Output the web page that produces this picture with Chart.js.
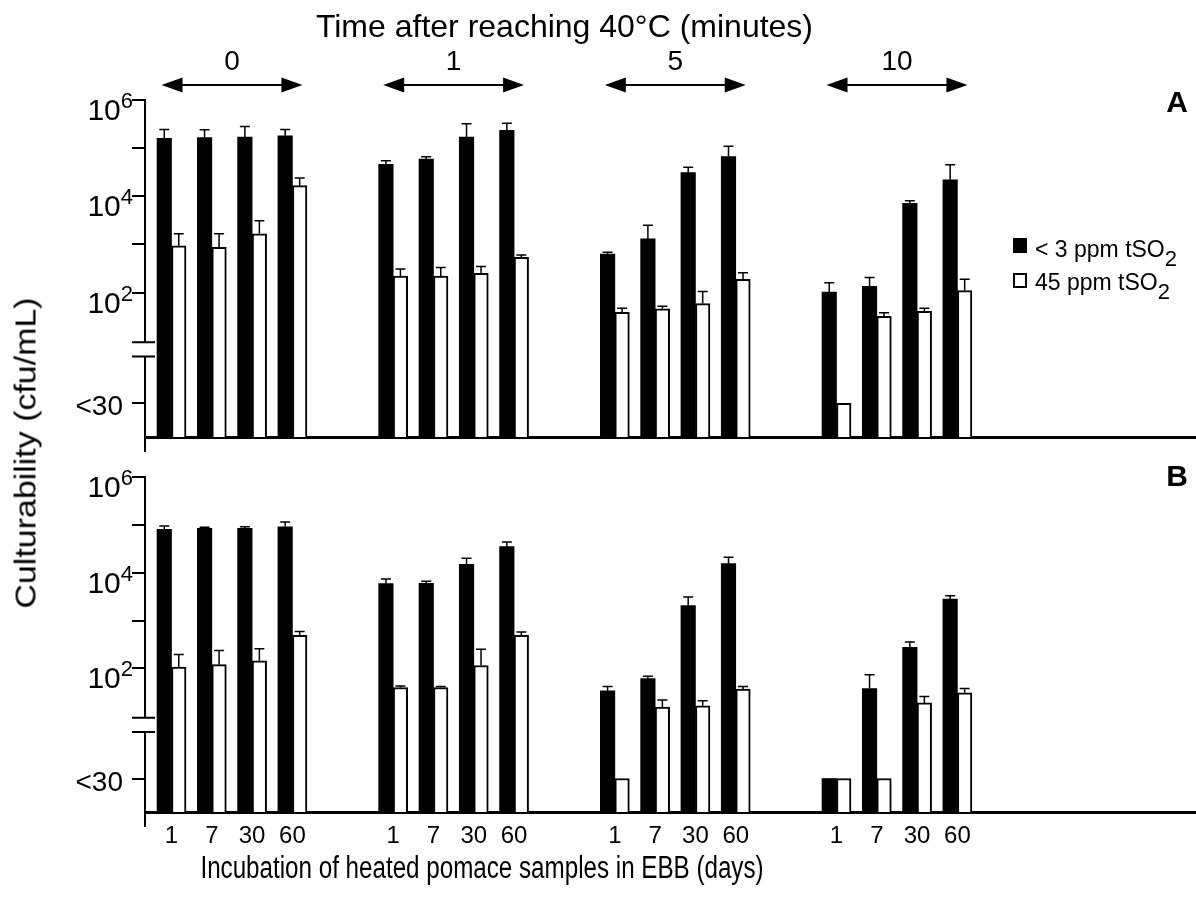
<!DOCTYPE html>
<html>
<head>
<meta charset="utf-8">
<script src="https://cdn.jsdelivr.net/npm/chart.js@4.4.1/dist/chart.umd.min.js"></script>
<style>
  body { margin: 0; background: #fff; }
  #fig { position: relative; width: 1196px; height: 899px; font-family: 'Liberation Sans', Arial, sans-serif; }
  canvas { position: absolute; left: 0; }
  #chartA { top: 0; }
  #chartB { top: 460px; }
  #ytitle { position: absolute; left: 26px; top: 453px; font-size: 29px; white-space: nowrap; color: #000;
            transform: translate(-50%, -50%) rotate(-90deg) scaleX(1.17); }
</style>
</head>
<body>
<div id="fig">
  <canvas id="chartA" width="1196" height="460"></canvas>
  <canvas id="chartB" width="1196" height="439"></canvas>
  <div id="ytitle">Culturability (cfu/mL)</div>
</div>
<script>
// groups: minutes after reaching 40°C, bars inside a group: days of incubation in EBB
const timeLabels = ['0', '1', '5', '10'];
const dayLabels = ['1', '7', '30', '60'];
const seriesLabels = ['< 3 ppm tSO2', '45 ppm tSO2'];
const LT30 = 0; // below detection limit, plotted on the "<30" line

// cfu/mL, order: time 0 (days 1,7,30,60), time 1, time 5, time 10
const aLow = [1.6e5, 1.65e5, 1.7e5, 1.8e5, 4.6e4, 5.9e4, 1.7e5, 2.35e5, 630, 1300, 3.1e4, 6.7e4, 102, 135, 7100, 2.2e4];
const aLowErr = [2.45e5, 2.4e5, 2.8e5, 2.45e5, 5.5e4, 6.6e4, 3.2e5, 3.3e5, 690, 2500, 4.0e4, 1.1e5, 160, 205, 8100, 4.5e4];
const aHigh = [940, 870, 1660, 1.66e4, 220, 220, 250, 540, 39, 46, 59, 189, LT30, 32, 41, 110];
const aHighErr = [1660, 1660, 3100, 2.4e4, 310, 330, 350, 600, 47, 52, 105, 257, null, 38, 47, 190];

const bLow = [8.1e4, 8.5e4, 8.5e4, 9.1e4, 5900, 6000, 1.5e4, 3.5e4, 34, 61, 2050, 1.55e4, LT30, 38, 275, 2800];
const bLowErr = [9.5e4, 8.9e4, 9.1e4, 1.15e5, 7400, 6600, 2.0e4, 4.4e4, 42, 69, 3100, 2.1e4, null, 74, 355, 3300];
const bHigh = [107, 120, 145, 490, 40, 40, 115, 490, LT30, 15.5, 16.6, 37, LT30, LT30, 19, 31];
const bHighErr = [195, 237, 257, 590, 43, 42, 251, 575, null, 22, 21, 42, null, null, 26, 38];

const yTickValues = [LT30, 1e2, 1e3, 1e4, 1e5, 1e6];
const yTickLabels = ['<30', '10^2', '', '10^4', '', '10^6'];

const FONT = "'Liberation Sans', Arial, sans-serif";
Chart.defaults.font.family = FONT;
Chart.defaults.color = '#000';

const LT30_POS = -0.3;          // where "<30" sits on the broken axis
const BREAK = [0.97, 0.67];     // the two break marks
const GROUP_STEP = 5.5;
const xPos = timeLabels.flatMap((t, g) => dayLabels.map((d, i) => g * GROUP_STEP + i));

function toPos(v) { return v === LT30 ? LT30_POS : Math.log10(v); }
function points(vals) { return vals.map((v, i) => ({ x: xPos[i], y: toPos(v) })); }

const errorBars = {
  id: 'errorBars',
  afterDatasetsDraw(chart) {
    const ctx = chart.ctx, ys = chart.scales.y;
    ctx.save();
    ctx.strokeStyle = '#000';
    ctx.lineWidth = 1.5;
    chart.data.datasets.forEach((ds, di) => {
      chart.getDatasetMeta(di).data.forEach((bar, i) => {
        const e = ds.errors[i];
        if (e == null) return;
        const top = ys.getPixelForValue(toPos(e));
        ctx.beginPath();
        ctx.moveTo(bar.x, bar.y);
        ctx.lineTo(bar.x, top);
        ctx.moveTo(bar.x - 5, top);
        ctx.lineTo(bar.x + 5, top);
        ctx.stroke();
      });
    });
    ctx.restore();
  }
};

// tick labels with superscripts, axis break, axis stub below baseline, panel letter
const axisDecor = {
  id: 'axisDecor',
  afterDraw(chart, args, opts) {
    const ctx = chart.ctx, ys = chart.scales.y, area = chart.chartArea;
    const ax = area.left;
    ctx.save();
    ctx.fillStyle = '#000';
    ctx.strokeStyle = '#000';
    ctx.textBaseline = 'alphabetic';
    ys.ticks.forEach((t, i) => {
      const lab = yTickLabels[i];
      if (!lab) return;
      const y = ys.getPixelForValue(t.value);
      if (lab.includes('^')) {
        const [base, exp] = lab.split('^');
        ctx.font = '30px ' + FONT;
        const wb = ctx.measureText(base).width;
        ctx.font = '22px ' + FONT;
        const we = ctx.measureText(exp).width;
        const x0 = ax - 12 - wb - we;
        ctx.textAlign = 'left';
        ctx.font = '30px ' + FONT;
        ctx.fillText(base, x0, y + 20);
        ctx.font = '22px ' + FONT;
        ctx.fillText(exp, x0 + wb, y + 8);
      } else {
        ctx.font = '28px ' + FONT;
        ctx.textAlign = 'right';
        ctx.fillText(lab, ax - 22, y + 12);
      }
    });
    // break
    const y1 = ys.getPixelForValue(BREAK[0]), y2 = ys.getPixelForValue(BREAK[1]);
    ctx.fillStyle = '#fff';
    ctx.fillRect(ax - 4, y1, 8, y2 - y1);
    ctx.lineWidth = 2;
    ctx.beginPath();
    ctx.moveTo(ax - 13, y1); ctx.lineTo(ax + 10, y1);
    ctx.moveTo(ax - 13, y2); ctx.lineTo(ax + 10, y2);
    ctx.moveTo(ax, area.bottom); ctx.lineTo(ax, area.bottom + 15);
    ctx.stroke();
    // panel letter
    ctx.fillStyle = '#000';
    ctx.font = 'bold 30px ' + FONT;
    ctx.textAlign = 'right';
    ctx.fillText(opts.letter, 1188, opts.letterY);
    ctx.restore();
  }
};

function arrow(ctx, x1, x2, y) {
  const head = 21, half = 7.5;
  ctx.lineWidth = 2;
  ctx.beginPath();
  ctx.moveTo(x1 + head - 2, y); ctx.lineTo(x2 - head + 2, y);
  ctx.stroke();
  ctx.beginPath();
  ctx.moveTo(x1, y); ctx.lineTo(x1 + head, y - half); ctx.lineTo(x1 + head, y + half); ctx.closePath();
  ctx.moveTo(x2, y); ctx.lineTo(x2 - head, y - half); ctx.lineTo(x2 - head, y + half); ctx.closePath();
  ctx.fill();
}

// top panel: title, time arrows, legend
const topDecor = {
  id: 'topDecor',
  afterDraw(chart) {
    const ctx = chart.ctx, xs = chart.scales.x;
    ctx.save();
    ctx.fillStyle = '#000';
    ctx.strokeStyle = '#000';
    const left = xs.getPixelForValue(xPos[0]), right = xs.getPixelForValue(xPos[xPos.length - 1]);
    ctx.font = '32px ' + FONT;
    ctx.textAlign = 'center';
    ctx.textBaseline = 'alphabetic';
    ctx.fillText('Time after reaching 40°C (minutes)', (left + right) / 2, 37);
    timeLabels.forEach((t, g) => {
      const a = xs.getPixelForValue(xPos[g * 4]) - 10;
      const b = xs.getPixelForValue(xPos[g * 4 + 3]) + 10;
      arrow(ctx, a, b, 85);
      ctx.font = '28px ' + FONT;
      ctx.fillText(t, (a + b) / 2, 70);
    });
    // legend
    const lx = 1013;
    const rows = [257, 290];
    chart.data.datasets.forEach((ds, i) => {
      const by = rows[i];
      if (i === 0) {
        ctx.fillRect(lx, by - 19, 14, 15);
      } else {
        ctx.lineWidth = 2;
        ctx.strokeRect(lx + 1, by - 16, 12, 13);
      }
      const main = ds.label.slice(0, -1), sub = ds.label.slice(-1);
      ctx.textAlign = 'left';
      ctx.font = '23px ' + FONT;
      ctx.fillText(main, lx + 22, by);
      const w = ctx.measureText(main).width;
      ctx.font = '22px ' + FONT;
      ctx.fillText(sub, lx + 22 + w, by + 9);
    });
    ctx.restore();
  }
};

const bottomDecor = {
  id: 'bottomDecor',
  afterDraw(chart) {
    const ctx = chart.ctx;
    ctx.save();
    ctx.fillStyle = '#000';
    ctx.font = '31px ' + FONT;
    ctx.textAlign = 'center';
    ctx.textBaseline = 'alphabetic';
    ctx.translate(482, 418);
    ctx.scale(0.78, 1);
    ctx.fillText('Incubation of heated pomace samples in EBB (days)', 0, 0);
    ctx.restore();
  }
};

function makePanel(id, low, lowErr, high, highErr, cfg) {
  return new Chart(document.getElementById(id), {
    type: 'bar',
    data: {
      datasets: [
        { label: seriesLabels[0], data: points(low), errors: lowErr, base: -1,
          backgroundColor: '#000', borderWidth: 0, barThickness: 14.5 },
        { label: seriesLabels[1], data: points(high), errors: highErr, base: -1,
          backgroundColor: '#fff', borderColor: '#000', borderWidth: 2, barThickness: 14.5 }
      ]
    },
    options: {
      responsive: false,
      animation: false,
      layout: { padding: { top: cfg.top, left: 0, right: 0, bottom: 0 } },
      plugins: {
        legend: { display: false },
        tooltip: { enabled: false },
        axisDecor: { letter: cfg.letter, letterY: cfg.letterY }
      },
      scales: {
        x: {
          type: 'linear', min: -0.658, max: 25.42, offset: false,
          afterBuildTicks: s => { s.ticks = xPos.map(v => ({ value: v })); },
          afterFit: s => { s.height = cfg.xHeight; },
          ticks: { display: cfg.xLabels, autoSkip: false, maxRotation: 0, padding: 10,
                   font: { size: 24 }, callback: (v, i) => dayLabels[i % dayLabels.length] },
          grid: { display: false, drawTicks: false },
          border: { display: true, color: '#000', width: 3 }
        },
        y: {
          type: 'linear', min: -1, max: 6,
          afterBuildTicks: s => { s.ticks = yTickValues.map(v => ({ value: toPos(v) })); },
          afterFit: s => { s.width = 145; },
          ticks: { display: false },
          grid: { drawOnChartArea: false, drawTicks: true, tickLength: 13, color: '#000', lineWidth: 2 },
          border: { display: true, color: '#000', width: 2 }
        }
      }
    },
    plugins: [errorBars, axisDecor].concat(cfg.extra)
  });
}

makePanel('chartA', aLow, aLowErr, aHigh, aHighErr,
  { top: 100, xHeight: 23, xLabels: false, letter: 'A', letterY: 112, extra: [topDecor] });
makePanel('chartB', bLow, bLowErr, bHigh, bHighErr,
  { top: 17, xHeight: 87, xLabels: true, letter: 'B', letterY: 26, extra: [bottomDecor] });
</script>
</body>
</html>
